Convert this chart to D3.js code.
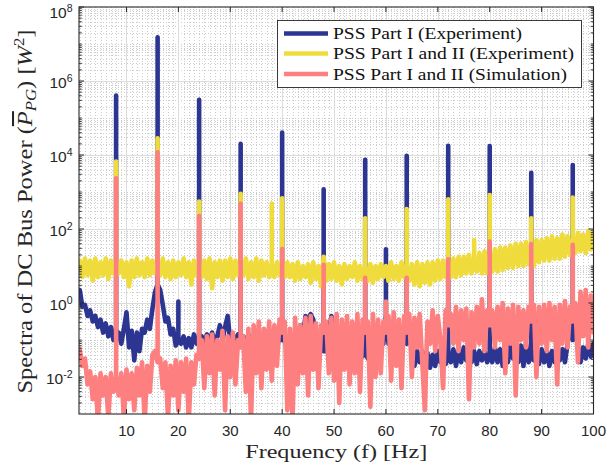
<!DOCTYPE html>
<html>
<head>
<meta charset="utf-8">
<script src="https://cdn.jsdelivr.net/npm/d3@7"></script>
<style>
  body { margin: 0; background: #fff; }
  svg { display: block; }
</style>
</head>
<body>
<svg id="chart" width="609" height="472"></svg>
<script>
// Spectra are sampled every 0.5 Hz starting at 1 Hz; values are log10 of power in W^2.
const freqStartHz = 1;
const freqStepHz = 0.5;

// PSS Part I (Experiment) - background spectrum
const partIExpLog = [
  0.35, -0.1, -0.05, -0.35, -0.2, -0.5, -0.35, -0.65, -0.45, -0.8,
  -0.55, -0.9, -0.65, -1.0, -0.9, -0.8, -1.1, -0.7, -0.25, -1.2,
  -0.75, -1.55, -0.8, -1.3, -0.7, -0.8, -0.45, -0.7, -0.15, 0.3,
  0.5, 0.35, -0.05, -0.5, -0.4, -0.85, -0.7, -1.15, -1.0, -1.1,
  -0.9, -1.2, -0.95, -1.2, -0.85, -1.1, -1.0, -0.9, -1.1, -0.85,
  -1.1, -0.8, -1.05, -0.9, -0.6, -1.0, -0.65, -0.35, -1.05, -0.85,
  -1.1, -0.85, -1.0, -0.9, -1.1, -0.85, -1.2, -0.9, -1.15, -0.85,
  -1.2, -0.9, -1.2, -0.9, -1.25, -0.95, -1.2, -0.9, -1.0, -0.95,
  -1.3, -1.0, -1.3, -0.9, -1.2, -0.6, -0.9, -0.35, -0.5, -0.3,
  -0.45, -1.0, -1.5, -1.2, -1.3, -1.3, -0.8, -0.35, -1.0, -1.3,
  -1.0, -1.35, -1.1, -1.6, -1.4, -1.7, -1.3, -1.5, -1.2, -1.45,
  -1.3, -1.5, -1.2, -1.6, -1.3, -1.5, -1.1, -1.1, -0.3, -1.1,
  -1.1, -1.45, -1.1, -1.5, -1.0, -0.7, -1.1, -0.8, -1.3, -1.7,
  -1.3, -1.6, -1.3, -1.7, -1.35, -1.75, -1.4, -1.7, -1.3, -1.6,
  -1.35, -1.65, -1.4, -1.6, -1.25, -1.7, -1.3, -1.6, -1.2, -1.55,
  -1.3, -1.6, -1.3, -1.65, -1.3, -1.55, -1.3, -1.6, -1.4, -1.6,
  -1.2, -1.6, -1.25, -1.7, -1.2, -1.6, -1.1, -1.5, -1.1, -1.6,
  -1.15, -1.7, -1.1, -1.6, -1.4, -1.55, -1.2, -1.65, -1.25, -1.6,
  -1.3, -1.7, -1.3, -1.6, -1.2, -1.55, -1.25, -1.6, -1.1, -0.6,
  -1.0, -0.6, -1.2, -1.6, -1.2, -1.5, -1.1, -1.45, -1.1
];
const partISpikeHz  = [8, 16, 20, 24, 32, 40, 48, 56, 60, 64, 72, 80, 88, 96];
const partISpikeLog = [5.61, 7.18, 0.04, 5.49, 4.30, 4.61, 3.07, 3.87, 1.45, 3.98, 4.25, 4.24, 3.52, 3.73];

// PSS Part I and II (Experiment)
const bothExpLog = [
  1.15, 0.7, 1.2, 0.75, 1.15, 0.6, 1.2, 0.7, 1.1, 0.75,
  1.2, 0.65, 1.15, 0.8, 1.0, 0.8, 1.15, 0.7, 1.1, 0.45,
  1.15, 0.7, 1.2, 0.75, 1.1, 0.7, 1.2, 0.75, 1.15, 0.8,
  1.0, 0.75, 1.2, 0.7, 1.1, 0.65, 1.15, 0.7, 1.1, 0.75,
  1.2, 0.7, 1.1, 0.5, 1.15, 0.75, 1.0, 0.7, 1.15, 0.65,
  1.2, 0.4, 1.1, 0.7, 1.15, 0.6, 1.15, 0.7, 1.2, 0.65,
  1.15, 0.75, 1.0, 0.75, 1.2, 0.65, 1.1, 0.7, 1.2, 0.6,
  1.15, 0.75, 1.1, 0.7, 1.0, 0.7, 1.1, 0.75, 1.0, 0.7,
  1.1, 0.7, 1.05, 0.6, 1.1, 0.65, 1.0, 0.7, 1.05, 0.55,
  1.1, 0.65, 1.0, 0.45, 1.25, 0.6, 1.05, 0.65, 1.1, 0.6,
  1.0, 0.5, 1.05, 0.65, 1.0, 0.7, 1.1, 0.6, 1.0, 0.65,
  0.9, 0.6, 1.05, 0.55, 1.0, 0.65, 1.05, 0.7, 1.0, 0.6,
  1.1, 0.65, 1.0, 0.6, 1.1, 0.7, 0.9, 0.6, 1.05, 0.5,
  1.1, 0.45, 1.05, 0.55, 1.1, 0.5, 1.1, 0.6, 1.15, 0.65,
  1.15, 0.7, 1.0, 0.7, 1.2, 0.7, 1.25, 0.75, 1.25, 0.8,
  1.3, 0.8, 1.2, 0.85, 1.35, 0.8, 1.4, 0.8, 1.2, 0.85,
  1.45, 0.85, 1.5, 0.9, 1.5, 0.95, 1.55, 0.95, 1.6, 1.0,
  1.6, 1.0, 1.65, 1.05, 1.4, 1.0, 1.7, 1.1, 1.7, 1.15,
  1.75, 1.15, 1.8, 1.2, 1.75, 1.2, 1.85, 1.25, 1.8, 1.3,
  1.6, 1.35, 1.9, 1.4, 1.85, 1.35, 1.95, 1.45, 1.9
];
const bothExpSpikeHz  = [8, 16, 24, 32, 38, 40, 56, 64, 72, 77, 80, 88, 96];
const bothExpSpikeLog = [3.82, 4.45, 2.74, 2.95, 2.69, 2.83, 2.29, 2.54, 2.80, 1.70, 2.92, 2.29, 2.85];

// PSS Part I and II (Simulation)
const bothSimLog = [
  -1.25, -1.7, -1.5, -2.2, -1.85, -2.6, -2.0, -3.2, -1.9, -2.5,
  -2.0, -3.1, -1.9, -2.4, -2.0, -2.5, -1.9, -3.1, -1.8, -2.6,
  -1.9, -2.9, -1.75, -2.5, -1.6, -3.2, -1.7, -2.4, -1.4, -1.3,
  -1.6, -1.5, -2.3, -1.6, -3.1, -1.7, -2.5, -1.55, -2.9, -1.6,
  -2.4, -1.5, -3.2, -1.6, -2.2, -1.4, -1.5, -1.0, -2.3, -0.9,
  -1.9, -0.85, -2.5, -1.0, -1.8, -0.75, -2.9, -0.9, -2.0, -0.8,
  -2.2, -1.0, -1.2, -0.9, -2.4, -0.7, -3.2, -0.6, -1.9, -0.5,
  -2.3, -0.7, -1.8, -0.5, -2.1, -0.6, -1.7, -0.45, -0.8, -0.5,
  -2.9, -0.7, -3.2, -0.4, -2.2, -0.6, -1.9, -0.4, -2.5, -0.35,
  -1.8, -0.55, -2.3, -0.6, -0.8, -0.5, -1.9, -0.4, -2.1, -0.3,
  -2.7, -0.45, -1.8, -0.35, -2.2, -0.5, -1.9, -0.3, -2.4, -0.45,
  -0.8, -0.5, -2.8, -0.3, -2.0, -0.45, -1.9, -0.5, -0.8, -0.35,
  -2.1, -0.25, -1.7, -0.45, -2.3, -0.35, -0.8, -0.3, -2.0, -0.4,
  -1.2, -0.3, -1.6, -2.9, -0.5, -1.1, -0.2, -1.3, -0.35, -1.0,
  -2.3, -0.2, -0.6, -0.3, -1.1, -0.1, -1.3, -0.2, -1.0, -0.15,
  -2.6, -0.25, -1.2, -0.1, -1.1, 0.1, -1.3, -0.2, -0.6, -0.2,
  -1.2, -0.1, -1.0, 0.0, -1.9, -0.15, -1.1, -0.05, -2.5, -0.1,
  -1.0, -0.2, -1.2, -0.1, -0.5, -0.05, -2.0, -0.1, -1.1, -0.05,
  -1.3, 0.0, -1.0, -0.1, -2.2, -0.05, -1.1, 0.05, -1.2, -0.1,
  -0.5, 0.0, -1.6, 0.3, -0.9, 0.35, -1.2, 0.2, -0.8
];
const bothSimSpikeHz  = [8, 16, 24, 32, 40, 48, 56, 60, 64, 72, 80, 88, 96];
const bothSimSpikeLog = [3.37, 4.07, 2.35, 2.68, 1.46, 1.03, 0.68, 0.04, 0.68, 1.18, 1.66, 1.59, 1.57];

const seriesNames = [
  "PSS Part I (Experiment)",
  "PSS Part I and II (Experiment)",
  "PSS Part I and II (Simulation)"
];
const seriesColors = ["#2d3592", "#efdc3c", "#fd7f7f"];

const xTickValues = [10, 20, 30, 40, 50, 60, 70, 80, 90, 100];
const yTickExponents = [-2, 0, 2, 4, 6, 8];

// ---------------------------------------------------------------
const svg = d3.select("#chart");
const area = { left: 79, right: 593.5, top: 7, bottom: 414 };
const axisColor = "#262626";
const labelFont = "'Liberation Serif', 'Times New Roman', serif";
const tickFont = "'Liberation Sans', Arial, Helvetica, sans-serif";

const x = d3.scaleLinear().domain([0.85, 100]).range([area.left, area.right]);
const y = d3.scaleLog().domain([1e-3, 1e8]).range([area.bottom, area.top]);

svg.append("defs").append("clipPath").attr("id", "plotClip")
  .append("rect")
  .attr("x", area.left).attr("y", area.top)
  .attr("width", area.right - area.left).attr("height", area.bottom - area.top);

// grid: dotted minor lines, then solid major lines
const grid = svg.append("g");
const minorYVals = [];
for (let d = -3; d <= 7; d++) {
  for (let k = 2; k <= 9; k++) minorYVals.push(k * Math.pow(10, d));
  if (d % 2 !== 0 && d > -3) minorYVals.push(Math.pow(10, d));
}
const minorXVals = d3.range(1, 100).filter(v => v % 10 !== 0);
const majorYVals = yTickExponents.filter(e => e < 8).map(e => Math.pow(10, e));
const majorXVals = xTickValues.filter(v => v < 100);

grid.selectAll(".mny").data(minorYVals).join("line")
  .attr("x1", area.left).attr("x2", area.right)
  .attr("y1", d => Math.round(y(d)) + 0.5).attr("y2", d => Math.round(y(d)) + 0.5)
  .attr("stroke", "#cdcdcd").attr("stroke-width", 1).attr("stroke-dasharray", "1,2");
grid.selectAll(".mnx").data(minorXVals).join("line")
  .attr("y1", area.top).attr("y2", area.bottom)
  .attr("x1", d => Math.round(x(d)) + 0.5).attr("x2", d => Math.round(x(d)) + 0.5)
  .attr("stroke", "#cdcdcd").attr("stroke-width", 1).attr("stroke-dasharray", "1,2");
grid.selectAll(".mjy").data(majorYVals).join("line")
  .attr("x1", area.left).attr("x2", area.right)
  .attr("y1", d => Math.round(y(d)) + 0.5).attr("y2", d => Math.round(y(d)) + 0.5)
  .attr("stroke", "#dcdcdc").attr("stroke-width", 1);
grid.selectAll(".mjx").data(majorXVals).join("line")
  .attr("y1", area.top).attr("y2", area.bottom)
  .attr("x1", d => Math.round(x(d)) + 0.5).attr("x2", d => Math.round(x(d)) + 0.5)
  .attr("stroke", "#dcdcdc").attr("stroke-width", 1);

// Build a trace: background samples with narrow spikes rising at the listed frequencies.
function buildTrace(baseLog, spikeHz, spikeLog) {
  const spikeAt = new Map(spikeHz.map((f, i) => [f, spikeLog[i]]));
  const pts = [];
  baseLog.forEach((v, i) => {
    const f = freqStartHz + i * freqStepHz;
    pts.push([f, v]);
    if (spikeAt.has(f)) {
      pts.push([f, spikeAt.get(f)]);
      pts.push([f, v]);
    }
  });
  return pts;
}

const traces = [
  buildTrace(partIExpLog, partISpikeHz, partISpikeLog),
  buildTrace(bothExpLog, bothExpSpikeHz, bothExpSpikeLog),
  buildTrace(bothSimLog, bothSimSpikeHz, bothSimSpikeLog)
];

const line = d3.line()
  .x(d => x(d[0]))
  .y(d => y(Math.pow(10, d[1])));

const dataG = svg.append("g").attr("clip-path", "url(#plotClip)");
dataG.selectAll("path").data(traces).join("path")
  .attr("d", line)
  .attr("fill", "none")
  .attr("stroke", (d, i) => seriesColors[i])
  .attr("stroke-width", 4.6)
  .attr("stroke-linejoin", "round")
  .attr("stroke-linecap", "round");

// axes box and ticks (ticks point inward, on all four sides)
const axes = svg.append("g").attr("stroke", axisColor).attr("fill", "none");
const majorTickVals = yTickExponents.map(e => Math.pow(10, e));
axes.selectAll(".ytl").data(majorTickVals).join("line")
  .attr("x1", area.left).attr("x2", area.left + 5)
  .attr("y1", d => y(d)).attr("y2", d => y(d)).attr("stroke-width", 1);
axes.selectAll(".ytr").data(majorTickVals).join("line")
  .attr("x1", area.right).attr("x2", area.right - 5)
  .attr("y1", d => y(d)).attr("y2", d => y(d)).attr("stroke-width", 1);
axes.selectAll(".ymtl").data(minorYVals).join("line")
  .attr("x1", area.left).attr("x2", area.left + 2.8)
  .attr("y1", d => y(d)).attr("y2", d => y(d)).attr("stroke-width", 0.9);
axes.selectAll(".ymtr").data(minorYVals).join("line")
  .attr("x1", area.right).attr("x2", area.right - 2.8)
  .attr("y1", d => y(d)).attr("y2", d => y(d)).attr("stroke-width", 0.9);
axes.selectAll(".xtb").data(xTickValues).join("line")
  .attr("y1", area.bottom).attr("y2", area.bottom - 5)
  .attr("x1", d => x(d)).attr("x2", d => x(d)).attr("stroke-width", 1);
axes.selectAll(".xtt").data(xTickValues).join("line")
  .attr("y1", area.top).attr("y2", area.top + 5)
  .attr("x1", d => x(d)).attr("x2", d => x(d)).attr("stroke-width", 1);
axes.append("rect")
  .attr("x", area.left).attr("y", area.top)
  .attr("width", area.right - area.left).attr("height", area.bottom - area.top)
  .attr("stroke-width", 1.1);

// tick labels
const tickLabels = svg.append("g").attr("fill", axisColor).attr("font-family", tickFont);
tickLabels.selectAll(".xl").data(xTickValues).join("text")
  .attr("x", d => x(d)).attr("y", area.bottom + 22)
  .attr("text-anchor", "middle").attr("font-size", 15)
  .text(d => d);
yTickExponents.forEach(e => {
  // the topmost label is nudged down so its exponent stays inside the figure
  const base = Math.max(y(Math.pow(10, e)) + 6.5, 17.5);
  const t = tickLabels.append("text")
    .attr("x", area.left - 6.5).attr("y", base)
    .attr("text-anchor", "end").attr("font-size", 15.5);
  t.append("tspan").text("10");
  t.append("tspan").attr("dy", -6).attr("font-size", 10.5).text(e);
});

// axis titles
svg.append("text")
  .attr("x", (area.left + area.right) / 2).attr("y", 458)
  .attr("text-anchor", "middle")
  .attr("font-family", labelFont).attr("font-size", 19.5).attr("fill", axisColor)
  .attr("textLength", 182).attr("lengthAdjust", "spacingAndGlyphs")
  .text("Frequency (f) [Hz]");

const yTitle = svg.append("text")
  .attr("transform", `translate(32,${(area.top + area.bottom) / 2 + 1}) rotate(-90)`)
  .attr("text-anchor", "middle")
  .attr("font-family", labelFont).attr("font-size", 20.5).attr("fill", axisColor)
  .attr("textLength", 364).attr("lengthAdjust", "spacingAndGlyphs");
yTitle.append("tspan").text("Spectra of DC Bus Power (");
yTitle.append("tspan").attr("font-style", "italic").style("text-decoration", "overline").text("P");
yTitle.append("tspan").attr("font-style", "italic").attr("font-size", 14).attr("dy", 4).text("PG");
yTitle.append("tspan").attr("dy", -4).text(") [");
yTitle.append("tspan").attr("font-style", "italic").text("W");
yTitle.append("tspan").attr("font-size", 14).attr("dy", -8).text("2");
yTitle.append("tspan").attr("dy", 8).text("]");

// legend
const legend = svg.append("g");
legend.append("rect")
  .attr("x", 277.5).attr("y", 20.5).attr("width", 304).attr("height", 67)
  .attr("fill", "#fff").attr("stroke", axisColor).attr("stroke-width", 0.9);
const legendRows = [33.5, 53.5, 74];
const legendWidths = [189, 241, 234];
seriesNames.forEach((name, i) => {
  legend.append("line")
    .attr("x1", 284).attr("x2", 328)
    .attr("y1", legendRows[i]).attr("y2", legendRows[i])
    .attr("stroke", seriesColors[i]).attr("stroke-width", 4.6);
  legend.append("text")
    .attr("x", 333).attr("y", legendRows[i] + 5.5)
    .attr("font-family", labelFont).attr("font-size", 17).attr("fill", "#111")
    .attr("textLength", legendWidths[i]).attr("lengthAdjust", "spacingAndGlyphs")
    .text(name);
});
</script>
</body>
</html>
